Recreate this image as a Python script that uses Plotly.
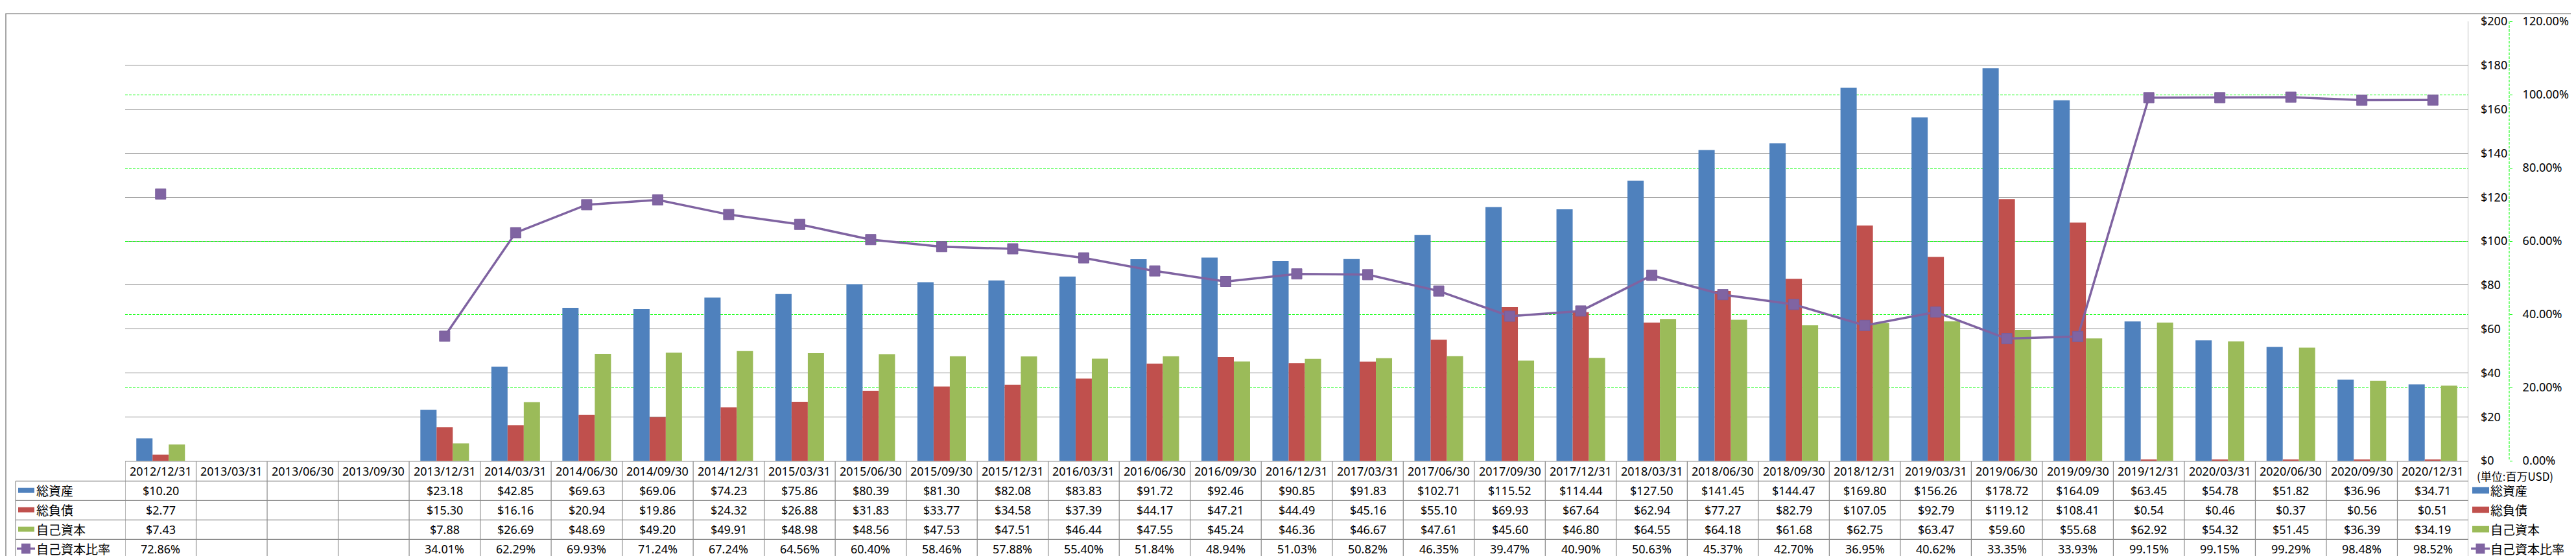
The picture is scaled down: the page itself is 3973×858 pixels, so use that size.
import plotly.graph_objects as go

dates = ["2012/12/31", "2013/03/31", "2013/06/30", "2013/09/30", "2013/12/31",
         "2014/03/31", "2014/06/30", "2014/09/30", "2014/12/31",
         "2015/03/31", "2015/06/30", "2015/09/30", "2015/12/31",
         "2016/03/31", "2016/06/30", "2016/09/30", "2016/12/31",
         "2017/03/31", "2017/06/30", "2017/09/30", "2017/12/31",
         "2018/03/31", "2018/06/30", "2018/09/30", "2018/12/31",
         "2019/03/31", "2019/06/30", "2019/09/30", "2019/12/31",
         "2020/03/31", "2020/06/30", "2020/09/30", "2020/12/31"]

total_assets = [10.20, None, None, None, 23.18, 42.85, 69.63, 69.06, 74.23, 75.86, 80.39, 81.30,
                82.08, 83.83, 91.72, 92.46, 90.85, 91.83, 102.71, 115.52, 114.44, 127.50, 141.45,
                144.47, 169.80, 156.26, 178.72, 164.09, 63.45, 54.78, 51.82, 36.96, 34.71]
total_liab = [2.77, None, None, None, 15.30, 16.16, 20.94, 19.86, 24.32, 26.88, 31.83, 33.77,
              34.58, 37.39, 44.17, 47.21, 44.49, 45.16, 55.10, 69.93, 67.64, 62.94, 77.27,
              82.79, 107.05, 92.79, 119.12, 108.41, 0.54, 0.46, 0.37, 0.56, 0.51]
equity = [7.43, None, None, None, 7.88, 26.69, 48.69, 49.20, 49.91, 48.98, 48.56, 47.53,
          47.51, 46.44, 47.55, 45.24, 46.36, 46.67, 47.61, 45.60, 46.80, 64.55, 64.18,
          61.68, 62.75, 63.47, 59.60, 55.68, 62.92, 54.32, 51.45, 36.39, 34.19]
equity_ratio = [72.86, None, None, None, 34.01, 62.29, 69.93, 71.24, 67.24, 64.56, 60.40, 58.46,
                57.88, 55.40, 51.84, 48.94, 51.03, 50.82, 46.35, 39.47, 40.90, 50.63, 45.37,
                42.70, 36.95, 40.62, 33.35, 33.93, 99.15, 99.15, 99.29, 98.48, 98.52]

series_names = ["総資産", "総負債", "自己資本", "自己資本比率"]
unit_label = "(単位:百万USD)"

BLUE = "#4F81BD"
RED = "#C0504D"
GREEN = "#9BBB59"
PURPLE = "#8064A2"
GRID = "#898989"
LIME = "#00FF00"

FIG_W, FIG_H = 3973, 858
L, R, T, B = 185, 3960, 13, 703
W, H = R - L, B - T


def px(x):
    return (x - L) / W


def py(y):
    return (B - y) / H


NUM_FONT = dict(family="Noto Sans, Open Sans, sans-serif", size=18, color="#000000")
CJK_FONT = dict(family="Noto Sans CJK JP, Noto Sans, sans-serif", size=19, color="#000000")

fig = go.Figure()
fig.add_trace(go.Bar(x=dates, y=total_assets, name=series_names[0], marker_color=BLUE,
                     marker_line_width=0))
fig.add_trace(go.Bar(x=dates, y=total_liab, name=series_names[1], marker_color=RED,
                     marker_line_width=0))
fig.add_trace(go.Bar(x=dates, y=equity, name=series_names[2], marker_color=GREEN,
                     marker_line_width=0))
fig.add_trace(go.Scatter(x=dates, y=equity_ratio, name=series_names[3], yaxis="y2",
                         mode="lines+markers", connectgaps=False,
                         line=dict(color="#7F63A1", width=3.5),
                         marker=dict(symbol="square", size=16, color=PURPLE,
                                     line=dict(color="#7A5E9C", width=1))))

shapes = []
annotations = []

# table grid
row_lines = [735, 765.5, 796, 826.5]
shapes.append(dict(type="line", xref="x", yref="paper", x0=-0.5, x1=len(dates) - 0.5,
                   y0=py(704), y1=py(704), line=dict(color=GRID, width=1.2)))
for yy in row_lines:
    shapes.append(dict(type="line", xref="paper", yref="paper", x0=px(16), x1=px(3799),
                       y0=py(yy), y1=py(yy), line=dict(color=GRID, width=1.2)))
for k in range(len(dates)):
    shapes.append(dict(type="line", xref="x", yref="paper", x0=k - 0.5, x1=k - 0.5,
                       y0=py(704), y1=py(857), line=dict(color=GRID, width=1.2)))
# right edge (axis line + table edge)
shapes.append(dict(type="line", xref="x", yref="paper", x0=len(dates) - 0.5, x1=len(dates) - 0.5,
                   y0=py(13), y1=py(857), line=dict(color=GRID, width=1.2)))
# left edge of table
shapes.append(dict(type="line", xref="paper", yref="paper", x0=px(16), x1=px(16),
                   y0=py(735), y1=py(857), line=dict(color=GRID, width=1.2)))
# secondary axis dashed line
shapes.append(dict(type="line", xref="paper", yref="paper", x0=px(3862), x1=px(3862),
                   y0=py(13), y1=py(703), line=dict(color=LIME, width=1, dash="4px,2px")))
# outer border
shapes.append(dict(type="rect", xref="paper", yref="paper", x0=px(1), x1=px(3970),
                   y0=py(857), y1=py(1), line=dict(color=GRID, width=1.5)))

# table text
row_centers = [749.5, 780, 810.5, 841]
header_center = 719.5
for i, d in enumerate(dates):
    annotations.append(dict(x=d, xref="x", y=py(header_center), yref="paper", text=d,
                            showarrow=False, font=NUM_FONT, xanchor="center", yanchor="middle"))
    vals = [total_assets[i], total_liab[i], equity[i]]
    for r, v in enumerate(vals):
        if v is not None:
            annotations.append(dict(x=d, xref="x", y=py(row_centers[r]), yref="paper",
                                    text=f"${v:.2f}", showarrow=False, font=NUM_FONT,
                                    xanchor="center", yanchor="middle"))
    if equity_ratio[i] is not None:
        annotations.append(dict(x=d, xref="x", y=py(row_centers[3]), yref="paper",
                                text=f"{equity_ratio[i]:.2f}%", showarrow=False, font=NUM_FONT,
                                xanchor="center", yanchor="middle"))

# legend keys (left column and right side)
colors = [BLUE, RED, GREEN]


def legend_block(x_sw0, x_sw1, x_text, sw_h):
    for r in range(3):
        yc = row_centers[r]
        shapes.append(dict(type="rect", xref="paper", yref="paper", x0=px(x_sw0), x1=px(x_sw1),
                           y0=py(yc + sw_h / 2), y1=py(yc - sw_h / 2),
                           fillcolor=colors[r], line=dict(width=0)))
        annotations.append(dict(x=px(x_text), xref="paper", y=py(yc), yref="paper",
                                text=series_names[r], showarrow=False, font=CJK_FONT,
                                xanchor="left", yanchor="middle"))
    yc = row_centers[3]
    shapes.append(dict(type="line", xref="paper", yref="paper", x0=px(x_sw0 - 2), x1=px(x_sw1 + 1),
                       y0=py(yc), y1=py(yc), line=dict(color=PURPLE, width=3.5)))
    mid = (x_sw0 - 2 + x_sw1 + 1) / 2
    shapes.append(dict(type="rect", xref="paper", yref="paper", x0=px(mid - 7), x1=px(mid + 7),
                       y0=py(yc + 8), y1=py(yc - 8), fillcolor=PURPLE, line=dict(width=0)))
    annotations.append(dict(x=px(x_text), xref="paper", y=py(yc), yref="paper",
                            text=series_names[3], showarrow=False, font=CJK_FONT,
                            xanchor="left", yanchor="middle"))


legend_block(20, 45, 46, 8)
legend_block(3805, 3831, 3831, 10)

annotations.append(dict(x=px(3810), xref="paper", y=py(727), yref="paper", text=unit_label,
                        showarrow=False,
                        font=dict(family="Noto Sans CJK JP, sans-serif", size=17, color="#000000"),
                        xanchor="left", yanchor="middle"))

fig.update_layout(
    width=FIG_W, height=FIG_H,
    margin=dict(l=L, r=FIG_W - R, t=T, b=FIG_H - B, pad=0),
    paper_bgcolor="white", plot_bgcolor="white",
    barmode="group", bargap=0.315, bargroupgap=0,
    showlegend=False,
    font=NUM_FONT,
    xaxis=dict(type="category", domain=[0, px(3799)], range=[-0.5, len(dates) - 0.5],
               showticklabels=False, showgrid=False, showline=False, ticks="", zeroline=False),
    yaxis=dict(side="right", range=[0, 200], dtick=20, tickprefix="$", tickformat=".0f",
               showgrid=True, gridcolor=GRID, gridwidth=1, zeroline=False,
               showline=False, ticks="", ticklabelstandoff=18, tickfont=NUM_FONT),
    yaxis2=dict(overlaying="y", side="right", anchor="free", position=px(3862),
                range=[0, 120], dtick=20, tickformat=".2f", ticksuffix="%",
                showgrid=True, gridcolor=LIME, gridwidth=1, griddash="4px,2px",
                zeroline=False, showline=False, ticks="outside", ticklen=4,
                tickcolor=LIME, tickwidth=1, ticklabelstandoff=12, tickfont=NUM_FONT),
    shapes=shapes,
    annotations=annotations,
)

fig.write_html("out.html", config={"displayModeBar": False})
